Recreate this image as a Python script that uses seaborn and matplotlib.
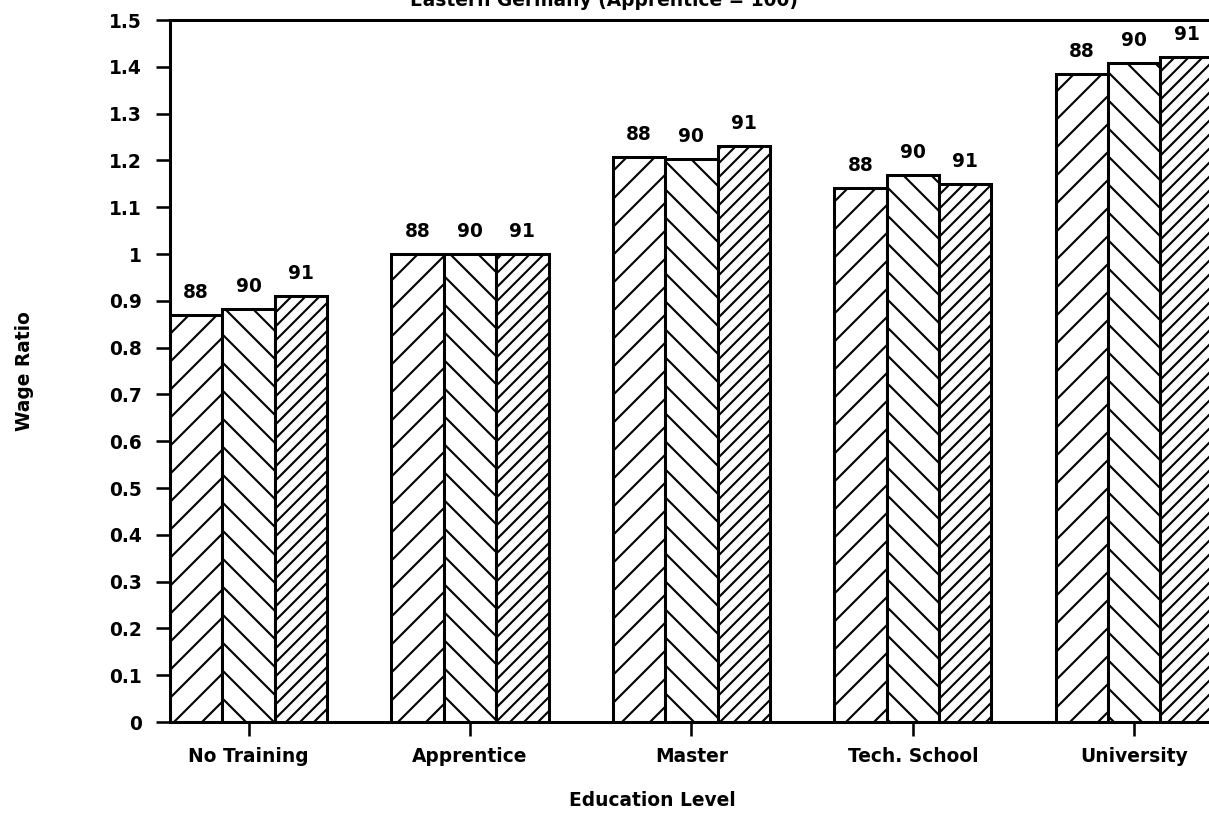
import matplotlib
matplotlib.use("Agg")
import matplotlib.pyplot as plt
import seaborn as sns
import pandas as pd

# ---- data ----
categories = ["No Training", "Apprentice", "Master", "Tech. School", "University"]
years = ["88", "90", "91"]
ratio_88 = [0.870, 1.000, 1.207, 1.141, 1.385]
ratio_90 = [0.882, 1.000, 1.203, 1.169, 1.408]
ratio_91 = [0.910, 1.000, 1.231, 1.150, 1.421]
ytick_values = [0, 0.1, 0.2, 0.3, 0.4, 0.5, 0.6, 0.7, 0.8, 0.9, 1.0, 1.1, 1.2, 1.3, 1.4, 1.5]
ytick_labels = ["0", "0.1", "0.2", "0.3", "0.4", "0.5", "0.6", "0.7", "0.8", "0.9",
                "1", "1.1", "1.2", "1.3", "1.4", "1.5"]
hatches = ["//", "\\\\", "////"]
title = "Eastern Germany (Apprentice = 100)"
xlabel = "Education Level"
ylabel = "Wage Ratio"

rows = []
for yr, vals in zip(years, [ratio_88, ratio_90, ratio_91]):
    for cat, v in zip(categories, vals):
        rows.append({"Education": cat, "Year": yr, "Ratio": v})
df = pd.DataFrame(rows)

DPI = 168
W, H = 1209, 817
sns.set_theme(style="white")
plt.rcParams["font.family"] = ["DejaVu Sans"]
plt.rcParams["hatch.linewidth"] = 0.9
plt.rcParams["hatch.color"] = "black"

fig = plt.figure(figsize=(W / DPI, H / DPI), dpi=DPI)
fig.patch.set_facecolor("white")
ax = fig.add_axes([170 / W, 1 - 722 / H, 1055 / W, 702 / H])

sns.barplot(data=df, x="Education", y="Ratio", hue="Year", order=categories,
            hue_order=years, width=0.71, palette=["white"] * 3, saturation=1,
            edgecolor="black", linewidth=1.3, errorbar=None, legend=False, ax=ax)

for cont, h, yr in zip(ax.containers, hatches, years):
    for p in cont:
        p.set_hatch(h)
        p.set_edgecolor("black")
    ax.bar_label(cont, labels=[yr] * len(cont), padding=5.5, fontsize=8,
                 fontweight="bold", color="black")

ax.set_xlim(-0.355, 4.41)
ax.set_ylim(0, 1.5)
ax.set_yticks(ytick_values, ytick_labels)
ax.set_xlabel("")
ax.set_ylabel("")

for side in ["left", "bottom", "top"]:
    ax.spines[side].set_visible(True)
    ax.spines[side].set_color("black")
    ax.spines[side].set_linewidth(1.3)
ax.spines["right"].set_visible(False)

ax.tick_params(axis="x", direction="out", length=6, width=1.1, pad=4.7,
               labelsize=8, bottom=True, colors="black")
ax.tick_params(axis="y", direction="out", length=6, width=1.1, pad=6,
               labelsize=8, left=True, colors="black")
for lbl in ax.get_xticklabels() + ax.get_yticklabels():
    lbl.set_fontweight("bold")

fig.text(0.5, 1 - 6 / H, title, ha="center", va="baseline", fontsize=8,
         fontweight="bold", color="black")
fig.text(652 / W, 1 - 800 / H, xlabel, ha="center", va="center", fontsize=8,
         fontweight="bold", color="black")
fig.text(24 / W, 1 - 371 / H, ylabel, ha="center", va="center", rotation=90,
         fontsize=8, fontweight="bold", color="black")

fig.savefig("out.png", dpi=DPI, facecolor="white")
